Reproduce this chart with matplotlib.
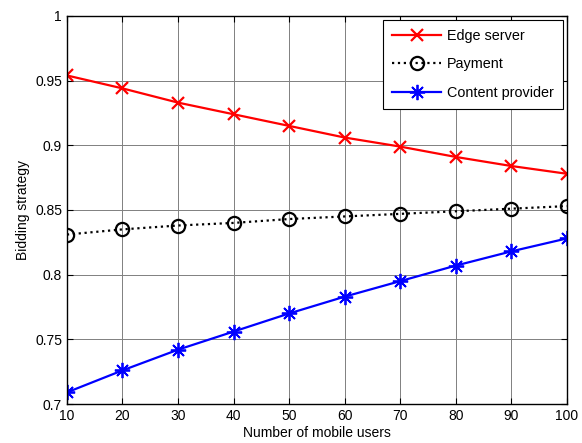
import matplotlib
matplotlib.use('Agg')
import matplotlib.pyplot as plt

plt.rcParams['font.family'] = ['Liberation Sans', 'DejaVu Sans']

# data
users = [10, 20, 30, 40, 50, 60, 70, 80, 90, 100]
edge_server = [0.954, 0.944, 0.933, 0.924, 0.915, 0.906, 0.899, 0.891, 0.884, 0.878]
payment = [0.831, 0.835, 0.838, 0.840, 0.843, 0.845, 0.847, 0.849, 0.851, 0.853]
content_provider = [0.709, 0.726, 0.742, 0.756, 0.770, 0.783, 0.795, 0.807, 0.818, 0.828]

fig = plt.figure(figsize=(5.82, 4.43), dpi=100)
ax = fig.add_axes([0.115, 0.088, 0.859, 0.876])

ax.plot(users, edge_server, color='red', linestyle='-', linewidth=1.6,
        marker='x', markersize=8, markeredgewidth=1.6, label='Edge server')
ax.plot(users, payment, color='black', linestyle=':', linewidth=1.6,
        marker='o', markersize=9.5, markerfacecolor='none', markeredgewidth=1.6, label='Payment')
# matlab style asterisk: 8 spokes
ax.plot(users, content_provider, color='blue', linestyle='-', linewidth=1.6,
        marker=(8, 2, 0), markersize=11, markeredgewidth=1.3, label='Content provider')

ax.set_xlim(10, 100)
ax.set_ylim(0.7, 1.0)
ax.set_xticks(users)
ax.set_yticks([0.7, 0.75, 0.8, 0.85, 0.9, 0.95, 1.0])
ax.set_yticklabels(['0.7', '0.75', '0.8', '0.85', '0.9', '0.95', '1'])
ax.tick_params(direction='in', top=True, right=True, labelsize=10, length=4)
ax.grid(True, color='#808080', linewidth=0.7)
for s in ax.spines.values():
    s.set_linewidth(1.0)

ax.set_xlabel('Number of mobile users', fontsize=10, labelpad=2)
ax.set_ylabel('Bidding strategy', fontsize=10, labelpad=4)

leg = ax.legend(loc='upper right', fontsize=10.4, fancybox=False, framealpha=1,
                edgecolor='black', borderaxespad=0.3, handlelength=3.4,
                handletextpad=0.4, labelspacing=1.0, borderpad=0.6)
leg.get_frame().set_linewidth(0.8)

fig.savefig('out.png', dpi=100)
